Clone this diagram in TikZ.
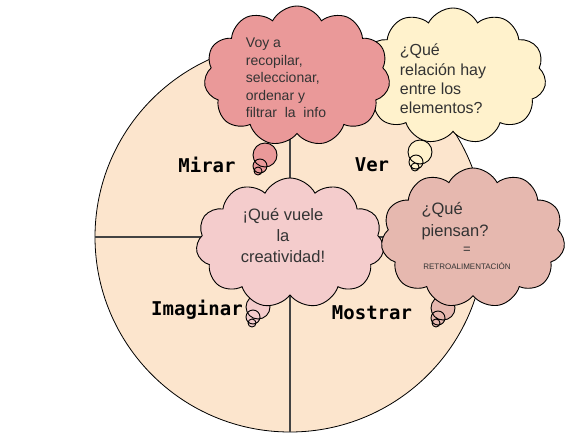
\documentclass[tikz,border=0pt]{standalone}
\usepackage{fontspec}
\setmainfont{Liberation Sans}
\setmonofont{DejaVu Sans Mono}
\usetikzlibrary{shapes.symbols}
\definecolor{WheelPeach}{HTML}{FCE5CD}
\definecolor{MirarRed}{HTML}{EA9999}
\definecolor{VerYellow}{HTML}{FFF2CC}
\definecolor{ImaginarPink}{HTML}{F4CCCC}
\definecolor{MostrarRose}{HTML}{E6B8AF}
\definecolor{CrossGray}{HTML}{434343}
\definecolor{BubbleText}{HTML}{333333}

\begin{document}
\begin{tikzpicture}[x=1pt, y=-1pt,
    thought/.style={draw, line width=0.9pt, cloud, cloud puffs=11, cloud puff arc=125, cloud ignores aspect, inner sep=0pt},
    puff/.style={draw, line width=0.9pt},
    stage/.style={font=\ttfamily\bfseries\fontsize{19}{19}\selectfont},
    says/.style={text=BubbleText, inner sep=0pt}]
\useasboundingbox (0,0) rectangle (572,436);

\node[circle, draw, line width=0.8pt, fill=WheelPeach, minimum size=390pt, inner sep=0pt] (wheel) at (290,237) {};
\draw[CrossGray, line width=1.1pt] (wheel.north) -- (wheel.south);
\draw[CrossGray, line width=1.1pt] (wheel.west) -- (wheel.east);

\node[stage] (mirar) at (207,165) {Mirar};
\node[stage] (ver) at (372,165) {Ver};
\node[stage] (imaginar) at (197,310) {Imaginar};
\node[stage] (mostrar) at (372,313) {Mostrar};

\draw[puff, fill=VerYellow] (420,152) circle (12pt) (416,162) circle (7pt) (415,167) circle (4pt);
\node[thought, fill=VerYellow, minimum width=186pt, minimum height=136pt] (verCloud) at (453,76) {};
\node[says, align=left, font=\fontsize{16}{19.3}\selectfont] (verText) at (443,79)
    {¿Qué\\relación hay\\entre los\\elementos?};

\draw[puff, fill=MirarRed] (265,155) circle (12pt) (260,166) circle (7pt) (258,171) circle (4pt);
\node[thought, fill=MirarRed, minimum width=186pt, minimum height=140pt] (mirarCloud) at (297,76) {};
\node[says, align=left, font=\fontsize{14}{17.4}\selectfont] (mirarText) at (286,78)
    {Voy a\\recopilar,\\seleccionar,\\ordenar y\\filtrar\ \ la\ \ info};

\draw[puff, fill=ImaginarPink] (258,307) circle (12pt) (253,317) circle (7pt) (252,323) circle (4pt);
\node[thought, fill=ImaginarPink, minimum width=188pt, minimum height=130pt] (imaginarCloud) at (290,243) {};
\node[says, align=center, font=\fontsize{16.5}{21}\selectfont] (imaginarText) at (283,236)
    {¡Qué vuele\\la\\creatividad!};

\draw[puff, fill=MostrarRose] (443,308) circle (12pt) (438,318) circle (7pt) (436,323) circle (4pt);
\node[thought, fill=MostrarRose, minimum width=184pt, minimum height=140pt] (mostrarCloud) at (473,238) {};
\node[says, align=left, font=\fontsize{16.5}{22}\selectfont] (mostrarText) at (455,221)
    {¿Qué\\piensan?};
\node[says, font=\fontsize{13}{13}\selectfont] (equals) at (467,250) {=};
\node[says, font=\fontsize{8}{8}\selectfont] (feedback) at (467,266) {RETROALIMENTACIÓN};
\end{tikzpicture}
\end{document}
